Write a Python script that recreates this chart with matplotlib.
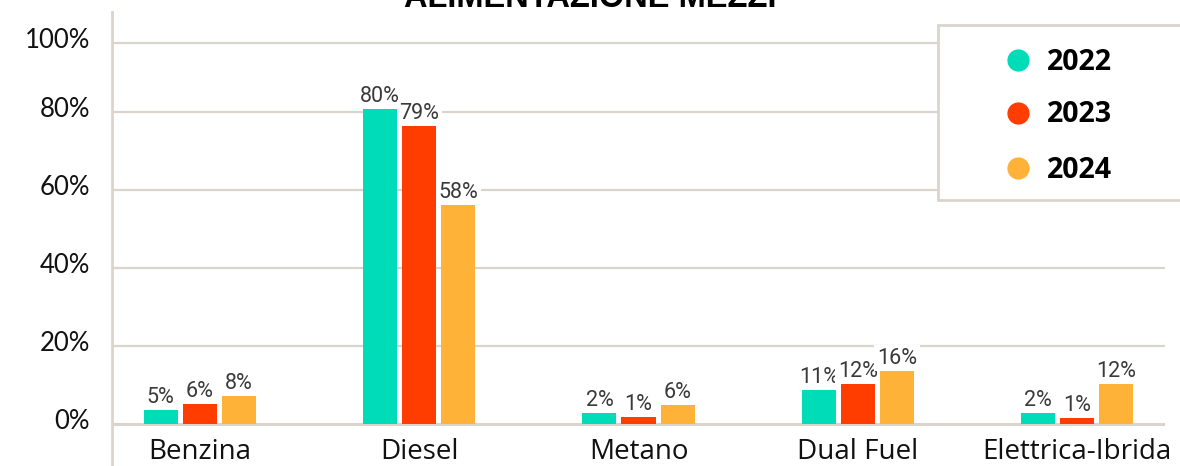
import matplotlib.pyplot as plt
import matplotlib.transforms as mtransforms
from matplotlib.lines import Line2D
from matplotlib.patches import Rectangle
import numpy as np

# dati
categorie = ['Benzina', 'Diesel', 'Metano', 'Dual Fuel', 'Elettrica-Ibrida']
anni = ['2022', '2023', '2024']
valori_2022 = [3.5, 80.7, 2.6, 8.5, 2.6]
valori_2023 = [4.9, 76.5, 1.7, 10.1, 1.5]
valori_2024 = [7.0, 56.2, 4.7, 13.5, 10.1]
etichette_2022 = ['5%', '80%', '2%', '11%', '2%']
etichette_2023 = ['6%', '79%', '1%', '12%', '1%']
etichette_2024 = ['8%', '58%', '6%', '16%', '12%']
tick_labels = ['0%', '20%', '40%', '60%', '80%', '100%']
tick_pos = [0, 20, 40, 60, 80, 97.7]

colori = ['#00DBB8', '#FF3D00', '#FFB238']
grid_col = '#DAD4CD'

W, H = 1180, 466
fig = plt.figure(figsize=(W / 100, H / 100), dpi=100)
ax = fig.add_axes([112 / W, 0, (1165 - 112) / W, (H - 12) / H])

x = np.arange(len(categorie))
step = 0.178
width = 0.155
serie = [valori_2022, valori_2023, valori_2024]
etichette = [etichette_2022, etichette_2023, etichette_2024]

for k in range(3):
    bars = ax.bar(x + (k - 1) * step, serie[k], width, color=colori[k], zorder=3)
    for bar, lab in zip(bars, etichette[k]):
        # sotto le barre ma sopra la griglia
        ax.annotate(lab, (bar.get_x() + bar.get_width() / 2, bar.get_height()),
                    xytext=(0, 1.5), textcoords='offset points', ha='center', va='bottom',
                    fontsize=15.5, family='Roboto', color='#3a3a3a', zorder=2.5,
                    bbox=dict(boxstyle='square,pad=0.12', fc='white', ec='none'))

ax.set_xlim(-0.4, 4.4)
ax.set_ylim(-10.9, 105.7)
ax.set_yticks(tick_pos)
ax.set_yticklabels(tick_labels, family='Lato', fontsize=18.5, color='#111111')
ax.tick_params(axis='y', length=0, pad=16)
ax.set_xticks([])
offset = mtransforms.ScaledTranslation(0, 5 / 100, fig.dpi_scale_trans)
for lab in ax.get_yticklabels():
    lab.set_transform(lab.get_transform() + offset)

for t in tick_pos[1:]:
    ax.axhline(t, color=grid_col, lw=1.6, zorder=1)
ax.axhline(0, color=grid_col, lw=2.2, zorder=2)

for s in ['top', 'right', 'bottom']:
    ax.spines[s].set_visible(False)
ax.spines['left'].set_color(grid_col)
ax.spines['left'].set_linewidth(2)

for i, c in enumerate(categorie):
    ax.text(i, -7.3, c, ha='center', va='center', family='Open Sans', fontsize=20, color='#111111')

fig.text(590 / W, 1 - 7 / H, 'ALIMENTAZIONE MEZZI', ha='center', va='baseline',
         family='Liberation Sans', fontweight='bold', fontsize=23.5, color='black')

# legenda disegnata a mano
fig.add_artist(Rectangle((938 / W, 1 - 200 / H), 260 / W, 175 / H, transform=fig.transFigure,
                         fc='white', ec=grid_col, lw=2, clip_on=False, zorder=5))
for k, (anno, yy) in enumerate(zip(anni, [60, 113, 168])):
    fig.add_artist(Line2D([1018 / W], [1 - yy / H], marker='o', markersize=15, color=colori[k],
                          transform=fig.transFigure, zorder=6))
    fig.text(1047 / W, 1 - (yy + 2) / H, anno, ha='left', va='center', family='Open Sans',
             fontweight='bold', fontsize=20.5, color='black', zorder=6)

fig.savefig('out.png', dpi=100)
